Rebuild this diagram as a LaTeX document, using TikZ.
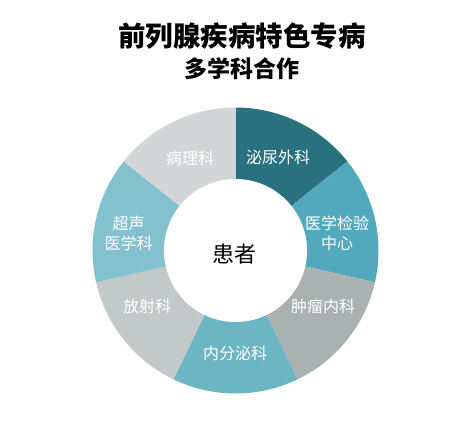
\documentclass[tikz,border=0pt]{standalone}
\usepackage{fontspec}
\newfontfamily\cjk{Noto Sans CJK SC}
\usepackage{tikz}
\definecolor{urocol}{HTML}{2A717F}
\definecolor{labcol}{HTML}{52A9BB}
\definecolor{oncocol}{HTML}{AAB1B1}
\definecolor{endocol}{HTML}{6CB5C3}
\definecolor{radiocol}{HTML}{C3C8C9}
\definecolor{usgcol}{HTML}{84C1CE}
\definecolor{pathocol}{HTML}{D3D6D7}

\begin{document}
\begin{tikzpicture}[x=1pt, y=1pt,
	every node/.style={font=\cjk\fontsize{16}{20}\selectfont},
	dept/.style={text=white, align=center, inner sep=0pt}]
	\useasboundingbox (0,0) rectangle (470,424);
	\node[font=\cjk\bfseries\fontsize{27.5}{30}\selectfont] (title) at (242,388) {前列腺疾病特色专病};
	\node[font=\cjk\bfseries\fontsize{23}{26}\selectfont] (subtitle) at (242,355) {多学科合作};
	\begin{scope}[shift={(235.5,173.5)}]
		\foreach \col [count=\i] in {urocol,labcol,oncocol,endocol,radiocol,usgcol,pathocol}
			\fill[\col] (0,0) -- ({90-(\i-1)*360/7}:143) arc[start angle={90-(\i-1)*360/7}, end angle={90-\i*360/7}, radius=143] -- cycle;
		\fill[white] (0,0) circle[radius=71.5];
		\node[font=\cjk\fontsize{22}{24}\selectfont] (patient) at (-1.5,-4) {患者};
	\end{scope}
	\node[dept] (uro) at (278,267) {泌尿外科};
	\node[dept] (lab) at (337,191) {医学检验\\中心};
	\node[dept] (onco) at (323,118) {肿瘤内科};
	\node[dept] (endo) at (235,71) {内分泌科};
	\node[dept] (radio) at (147,118) {放射科};
	\node[dept] (usg) at (128.5,191) {超声\\医学科};
	\node[dept] (patho) at (190,266) {病理科};
\end{tikzpicture}
\end{document}
